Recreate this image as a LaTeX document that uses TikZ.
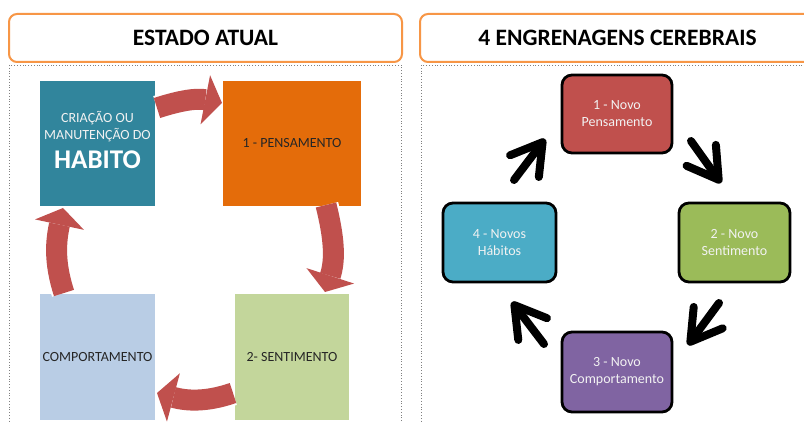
\documentclass[tikz,border=0pt]{standalone}
\usepackage{fontspec}
\setmainfont{Carlito}
\usetikzlibrary{arrows.meta}
\definecolor{hdrorange}{HTML}{F79646}
\definecolor{tealbox}{HTML}{31859C}
\definecolor{orangebox}{HTML}{E46C0A}
\definecolor{lbluebox}{HTML}{B9CDE5}
\definecolor{greenbox}{HTML}{C3D69B}
\definecolor{arrred}{HTML}{C0504D}
\definecolor{rbox}{HTML}{C0504D}
\definecolor{gbox}{HTML}{9BBB59}
\definecolor{pbox}{HTML}{8064A2}
\definecolor{tbox}{HTML}{4BACC6}
\definecolor{darktext}{HTML}{262626}
\definecolor{softwhite}{HTML}{F2F2F2}
\begin{document}
\begin{tikzpicture}[x=1pt,y=1pt,
  hdr/.style={draw=hdrorange, line width=2pt, rounded corners=8pt, fill=white,
    minimum height=48pt, inner sep=0pt, font=\fontsize{23.5}{27}\selectfont\bfseries, text=black},
  panel/.style={draw=gray, line width=0.8pt, dotted},
  sqbox/.style={inner sep=0pt, align=center, font=\fontsize{14}{17}\selectfont, text=darktext},
  rbx/.style={draw=black, line width=2.8pt, rounded corners=10pt, inner sep=0pt, align=center,
    minimum width=110pt, minimum height=78pt, font=\fontsize{14}{17}\selectfont, text=softwhite},
  redout/.style={draw=white, line width=25pt, -{Triangle[length=20pt,width=55pt,line width=0pt]}},
  redarr/.style={draw=arrred, line width=21pt, -{Triangle[length=17pt,width=50pt,line width=0pt]}},
  blk/.style={draw=black, line width=8pt, line cap=round, -{Straight Barb[length=30pt,width=36pt,round]}}
]
\useasboundingbox (0,0) rectangle (804,-422);
\fill[white] (0,0) rectangle (804,-422);

% headers and panels
\node[hdr, minimum width=393pt] (h1) at (205.5,-38) {ESTADO ATUAL};
\node[hdr, minimum width=395pt] (h2) at (617.5,-38) {4 ENGRENAGENS CEREBRAIS};
\draw[panel] (9,-65) rectangle (401,-432);
\draw[panel] (421,-65) rectangle (820,-432);

% left boxes
\node[sqbox, fill=tealbox, minimum width=115pt, minimum height=125pt] (hab) at (97.5,-143.5) {};
\node[sqbox, text=softwhite, anchor=base] (habt) at (97.5,-139.5) {CRIAÇÃO OU\\MANUTENÇÃO DO};
\node[sqbox, text=white, anchor=base, font=\fontsize{27}{30}\selectfont\bfseries] (habb) at (97.5,-169) {HABITO};
\node[sqbox, fill=orangebox, minimum width=138pt, minimum height=125pt] (pen) at (292,-143.5) {1 - PENSAMENTO};
\node[sqbox, fill=greenbox, minimum width=114pt, minimum height=126pt] (sen) at (292,-357) {2- SENTIMENTO};
\node[sqbox, fill=lbluebox, minimum width=115pt, minimum height=126pt] (com) at (97.5,-357) {COMPORTAMENTO};

% curved red arrows
\coordinate (ta) at (157,-108); \coordinate (tb) at (222,-103);
\coordinate (ra) at (326,-205); \coordinate (rb) at (325,-292);
\coordinate (ba) at (233,-393); \coordinate (bb) at (157,-393);
\coordinate (la) at (64,-293);  \coordinate (lb) at (63,-208);
\draw[redout] (ta) to[out=18,in=169] (tb);
\draw[redarr] (ta) to[out=18,in=169] (tb);
\draw[redout] (ra) to[out=-76,in=72] (rb);
\draw[redarr] (ra) to[out=-76,in=72] (rb);
\draw[redout] (ba) to[out=199,in=-15] (bb);
\draw[redarr] (ba) to[out=199,in=-15] (bb);
\draw[redout] (la) to[out=108,in=258] (lb);
\draw[redarr] (la) to[out=108,in=258] (lb);

% right boxes
\node[rbx, fill=rbox] (n1) at (617,-114) {1 - Novo\\Pensamento};
\node[rbx, fill=gbox, minimum width=111pt, minimum height=79pt] (n2) at (734.5,-242.5) {2 - Novo\\Sentimento};
\node[rbx, fill=pbox, minimum height=80pt] (n3) at (617,-372) {3 - Novo\\Comportamento};
\node[rbx, fill=tbox, minimum width=113pt, minimum height=79pt] (n4) at (499.5,-242.5) {4 - Novos\\Hábitos};

% black arrows
\coordinate (a41s) at (514,-180); \coordinate (a41e) at (545,-139);
\coordinate (a12s) at (691,-141); \coordinate (a12e) at (721,-183);
\coordinate (a23s) at (719,-303); \coordinate (a23e) at (688,-345);
\coordinate (a34s) at (544,-344); \coordinate (a34e) at (512,-302);
\draw[blk] (a41s) -- (a41e);
\draw[blk] (a12s) -- (a12e);
\draw[blk] (a23s) -- (a23e);
\draw[blk] (a34s) -- (a34e);
\end{tikzpicture}
\end{document}
